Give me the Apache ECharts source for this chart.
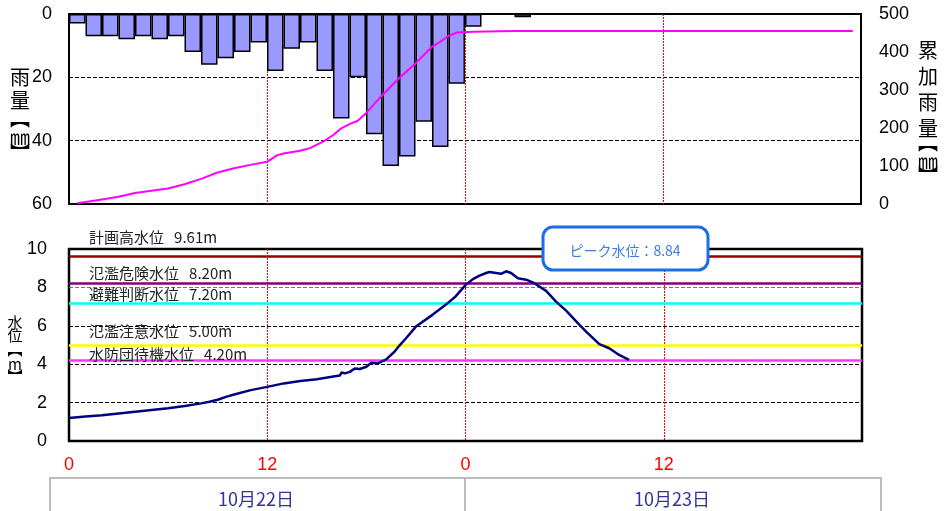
<!DOCTYPE html>
<html>
<head>
<meta charset="utf-8">
<title>雨量・水位</title>
<script src="https://cdn.jsdelivr.net/npm/echarts@6/dist/echarts.min.js"></script>
<style>
    html, body { margin: 0; padding: 0; background: #fff; }
    #my_echart { width: 945px; height: 511px; }
</style>
</head>
<body>
<div id="my_echart"></div>
<script>
// 時間（1時間ごと、48時間分）
var hourCategories = ['0','1','2','3','4','5','6','7','8','9','10','11','12','13','14','15','16','17','18','19','20','21','22','23',
    '24','25','26','27','28','29','30','31','32','33','34','35','36','37','38','39','40','41','42','43','44','45','46','47'];
// 時間雨量(mm)
var rainHourly = [3, 7, 7, 8, 7, 8, 7, 12, 16, 14, 12, 9, 18, 11, 9, 18, 33, 20, 38, 48, 45, 34, 42, 22, 4, 0, 0, 1];
// 累加雨量 [時間, mm]
var cumRain = [[0.5, 2], [1, 5], [2, 12], [3, 19], [4, 29], [5, 35], [6, 41], [7, 52], [8, 66], [9, 83], [10, 94],
    [11, 103], [12, 111], [12.6, 128], [13, 133], [14, 140], [14.6, 147], [15.4, 164], [16, 181], [16.5, 199],
    [17, 210], [17.5, 219], [18, 239], [19, 287], [20, 331], [21, 370], [22, 414], [22.5, 427], [23, 442],
    [23.5, 451], [24.5, 453], [27, 455], [47.5, 455]];
// 水位 [時間, m]
var waterLevel = [[0, 1.20], [1, 1.27], [2, 1.34], [3, 1.43], [4, 1.52], [5, 1.61], [6, 1.70], [7, 1.82], [8, 1.96],
    [8.5, 2.04], [9, 2.15], [9.5, 2.30], [10, 2.42], [11, 2.65], [12, 2.82], [13, 3.00], [14, 3.12], [15, 3.22],
    [16, 3.36], [16.4, 3.41], [16.5, 3.57], [16.7, 3.52], [17, 3.60], [17.3, 3.78], [17.6, 3.75], [18, 3.87],
    [18.3, 4.08], [18.7, 4.04], [19.2, 4.25], [19.7, 4.65], [20, 4.97], [20.4, 5.35], [21, 5.96], [22, 6.57],
    [22.8, 7.09], [23.4, 7.53], [24, 8.12], [24.45, 8.43], [24.85, 8.61], [25.25, 8.75], [25.45, 8.80],
    [25.85, 8.75], [26.15, 8.71], [26.46, 8.84], [26.76, 8.75], [27.17, 8.48], [27.67, 8.40], [28.17, 8.22],
    [28.88, 7.82], [29.48, 7.26], [30.09, 6.79], [30.9, 6.05], [31.3, 5.70], [32.1, 5.05], [32.7, 4.83],
    [33.3, 4.48], [33.9, 4.22]];
// 基準水位
var levelNames = ['計画高水位', '氾濫危険水位', '避難判断水位', '氾濫注意水位', '水防団待機水位'];
var levelValues = [9.61, 8.20, 7.20, 5.00, 4.20];
var peakLevel = 8.84;
// 目盛ラベル
var timeTickLabels = ['0', '12', '0', '12', ''];
var dateLabels = ['10月22日', '10月23日'];

(function () {
    var JP = '"Noto Sans CJK JP", sans-serif';
    var NUM = '"Liberation Sans", Arial, sans-serif';
    var levelColors = ['#990000', '#800080', '#00FFFF', '#FFFF00', '#FF33FF'];
    var levelLabelGap = [12, 3, 1, 6, -1];

    var mychart = echarts.init(document.getElementById('my_echart'));

    function noAxis(o) {
        o.axisLine = { show: false };
        o.axisTick = { show: false };
        return o;
    }
    //赤の点線（12時間ごと）
    function redSplit() {
        return {
            show: true, showMinLine: false, showMaxLine: false,
            lineStyle: { color: '#FF0000', type: [2, 1], width: 1 }
        };
    }
    // 縦書きの文字を1文字ずつ置く
    function vText(chars, x, ys, size) {
        return chars.map(function (c, i) {
            return {
                type: 'text', z: 100,
                style: { text: c, x: x, y: ys[i], align: 'center', verticalAlign: 'middle', font: size + 'px ' + JP, fill: '#000' }
            };
        });
    }

    mychart.setOption({
        animation: false,
        grid: [
            { left: 69, top: 14, width: 792, height: 190, show: true, borderColor: '#000', borderWidth: 2 },
            { left: 69, top: 249, width: 793, height: 192, show: true, borderColor: '#000', borderWidth: 2.5 }
        ],
        xAxis: [
            { type: 'category', gridIndex: 0, data: hourCategories, show: false, boundaryGap: true },
            noAxis({
                type: 'value', gridIndex: 0, min: 0, max: 48, interval: 12, position: 'bottom',
                axisLabel: { show: false }, splitLine: redSplit()
            }),
            noAxis({
                type: 'value', gridIndex: 1, min: 0, max: 48, interval: 12,
                axisLabel: {
                    color: '#FF0000', fontSize: 18, fontFamily: NUM, margin: 15,
                    formatter: function (v) { return timeTickLabels[Math.round(v / 12)]; }
                },
                splitLine: redSplit()
            })
        ],
        yAxis: [
            noAxis({
                type: 'value', gridIndex: 0, inverse: true, min: 0, max: 60, interval: 20,
                axisLabel: { color: '#000', fontSize: 18, fontFamily: NUM, margin: 17 },
                splitLine: { showMinLine: false, showMaxLine: false, lineStyle: { color: '#000', type: 'dashed', width: 1 } }
            }),
            noAxis({
                type: 'value', gridIndex: 0, min: 0, max: 500, interval: 100, position: 'right',
                axisLabel: { color: '#000', fontSize: 18, fontFamily: NUM, margin: 18 },
                splitLine: { show: false }
            }),
            noAxis({
                type: 'value', gridIndex: 1, min: 0, max: 10, interval: 2,
                axisLabel: { color: '#000', fontSize: 18, fontFamily: NUM, margin: 22 },
                splitLine: {
                    showMinLine: false, showMaxLine: false,
                    lineStyle: { color: ['#000', '#000', '#000', '#777', '#777', '#000'], type: 'dashed', width: 1 }
                }
            })
        ],
        series: [
            {
                name: '時間雨量',
                type: 'bar',
                xAxisIndex: 0, yAxisIndex: 0,
                barCategoryGap: '0%',
                data: rainHourly.map(function (v) { return v || null; }),
                itemStyle: { color: '#9999FF', borderColor: '#000', borderWidth: 1.5 },
                silent: true
            },
            {
                name: '累加雨量',
                type: 'line',
                xAxisIndex: 1, yAxisIndex: 1,
                data: cumRain,
                showSymbol: false,
                lineStyle: { color: '#FF00FF', width: 2 },
                z: 5
            },
            {
                name: '水位',
                type: 'line',
                xAxisIndex: 2, yAxisIndex: 2,
                data: waterLevel,
                showSymbol: false,
                lineStyle: { color: '#000080', width: 2.5 },
                z: 5,
                markLine: {
                    silent: true,
                    symbol: ['none', 'none'],
                    label: {
                        show: true, position: 'insideStartTop', color: '#222',
                        fontSize: 15, fontFamily: JP,
                        formatter: function (p) { return p.name + '   ' + p.value.toFixed(2) + 'm'; }
                    },
                    data: levelValues.map(function (v, i) {
                        return {
                            name: levelNames[i], yAxis: v,
                            lineStyle: { color: levelColors[i], width: 2.5, type: 'solid' },
                            label: { distance: [20, levelLabelGap[i]] }
                        };
                    })
                }
            }
        ],
        graphic: [].concat(
            // 雨量【㎜】
            vText(['雨', '量', '︻', '㎜', '︼'], 20, [77, 100, 118, 137, 153], 20),
            // 累加雨量【㎜】
            vText(['累', '加', '雨', '量', '︻', '㎜', '︼'], 928, [50, 76, 102, 128, 142, 161, 176], 20),
            // 水位【m】
            vText(['水', '位', '︻', 'm', '︼'], 15, [322, 335, 349, 364, 376], 15),
            [
                // ピーク水位
                { type: 'rect', z: 100, shape: { x: 543, y: 227, width: 165, height: 43, r: 10 }, style: { fill: '#fff', stroke: '#1A6FE6', lineWidth: 3 } },
                { type: 'text', z: 101, style: { text: 'ピーク水位：' + peakLevel.toFixed(2), x: 625, y: 251, align: 'center', verticalAlign: 'middle', font: '14px ' + JP, fill: '#3A7DE0' } },
                // 日付
                { type: 'rect', z: 100, shape: { x: 50, y: 478, width: 415, height: 40 }, style: { fill: '#fff', stroke: '#BBBBBB', lineWidth: 2 } },
                { type: 'rect', z: 100, shape: { x: 465, y: 478, width: 416, height: 40 }, style: { fill: '#fff', stroke: '#BBBBBB', lineWidth: 2 } },
                { type: 'text', z: 101, style: { text: dateLabels[0], x: 256, y: 499, align: 'center', verticalAlign: 'middle', font: '18px ' + JP, fill: '#333399' } },
                { type: 'text', z: 101, style: { text: dateLabels[1], x: 672, y: 499, align: 'center', verticalAlign: 'middle', font: '18px ' + JP, fill: '#333399' } }
            ]
        )
    });
})();
</script>
</body>
</html>
